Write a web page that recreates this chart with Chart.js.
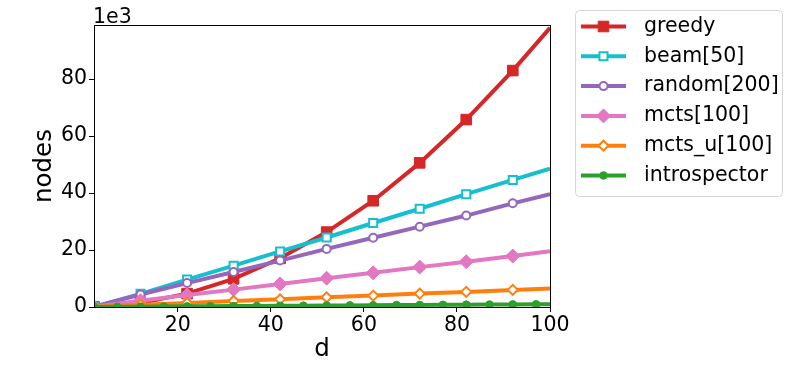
<!DOCTYPE html>
<html>
<head>
<meta charset="utf-8">
<script src="https://cdn.jsdelivr.net/npm/chart.js@4.4.1/dist/chart.umd.min.js"></script>
<style>
  html, body { margin: 0; padding: 0; background: #fff; }
  canvas { display: block; }
</style>
</head>
<body>
<canvas id="nodesChart" width="793" height="367"></canvas>
<script>
/* ---------------- data (values in thousands of nodes) ---------------- */

var depthMain = [2, 12, 22, 32, 42, 52, 62, 72, 82, 92, 100];
var depthIntro = [2, 7, 12, 17, 22, 27, 32, 37, 42, 47, 52, 57, 62, 67, 72, 77, 82, 87, 92, 97, 100];

var greedy = [0.04, 1.4, 4.7, 9.9, 17.1, 26.3, 37.3, 50.6, 65.8, 83.0, 98.0];
var beam50 = [0.1, 4.6, 9.6, 14.5, 19.5, 24.4, 29.5, 34.5, 39.6, 44.6, 48.6];
var random200 = [0.1, 4.4, 8.4, 12.3, 16.3, 20.4, 24.3, 28.2, 32.1, 36.4, 39.6];
var mcts100 = [0.1, 2.2, 4.2, 6.1, 8.1, 10.1, 12.0, 14.0, 15.9, 17.9, 19.6];
var mctsU100 = [0.05, 0.8, 1.4, 2.1, 2.7, 3.4, 4.0, 4.7, 5.3, 6.0, 6.5];
var introspector = [0.02, 0.07, 0.12, 0.17, 0.22, 0.27, 0.32, 0.37, 0.42, 0.47, 0.52,
                    0.57, 0.62, 0.67, 0.72, 0.77, 0.82, 0.87, 0.92, 0.97, 1.0];

var xTicks = [20, 40, 60, 80, 100];
var yTicks = [0, 20, 40, 60, 80];

/* ---------------- styling ---------------- */

var FONT = 'DejaVu Sans';
var TEXT_SIZE = 20.5;

// one entry per series, in legend order
var SERIES = [
  { label: 'greedy',        xs: depthMain,  ys: greedy,       color: '#d62728', style: 'rect',    radius: 7.5, fill: true  },
  { label: 'beam[50]',      xs: depthMain,  ys: beam50,       color: '#17becf', style: 'rect',    radius: 5.7, fill: false },
  { label: 'random[200]',   xs: depthMain,  ys: random200,    color: '#9467bd', style: 'circle',  radius: 4,   fill: false },
  { label: 'mcts[100]',     xs: depthMain,  ys: mcts100,      color: '#e377c2', style: 'rectRot', radius: 7,   fill: true  },
  { label: 'mcts_u[100]',   xs: depthMain,  ys: mctsU100,     color: '#ff7f0e', style: 'rectRot', radius: 5,   fill: false },
  { label: 'introspector',  xs: depthIntro, ys: introspector, color: '#2ca02c', style: 'circle',  radius: 3.8, fill: true  },
];

function buildDatasets() {
  return SERIES.map(function (s, i) {
    var last = s.xs.length - 1;
    return {
      label: s.label,
      data: s.xs.map(function (x, j) { return { x: x, y: s.ys[j] }; }),
      borderColor: s.color,
      borderWidth: 4,
      tension: 0,
      fill: false,
      clip: 0,
      order: SERIES.length - i,
      pointStyle: s.style,
      pointRadius: s.xs.map(function (x, j) { return j === last ? 0 : s.radius; }),
      pointBackgroundColor: s.fill ? s.color : '#ffffff',
      pointBorderColor: s.color,
      pointBorderWidth: s.fill ? 1 : 2,
    };
  });
}

/* ---------------- extra drawing: spines, offset text, legend ---------------- */

var framePlugin = {
  id: 'frame',
  afterDatasetsDraw: function (chart) {
    var ctx = chart.ctx;
    var a = chart.chartArea;
    ctx.save();
    ctx.strokeStyle = '#000';
    ctx.lineWidth = 1;
    ctx.strokeRect(Math.round(a.left) + 0.5, Math.round(a.top) + 0.5,
                   Math.round(a.right - a.left), Math.round(a.bottom - a.top));
    ctx.fillStyle = '#000';
    ctx.font = TEXT_SIZE + 'px "' + FONT + '"';
    ctx.textBaseline = 'alphabetic';
    ctx.textAlign = 'left';
    ctx.fillText('1e3', a.left - 1, 23);
    ctx.restore();
  },
  afterDraw: function (chart) {
    var ctx = chart.ctx;
    var box = { x: 575.5, y: 10.5, w: 207, h: 186 };
    ctx.save();
    ctx.beginPath();
    ctx.roundRect(box.x, box.y, box.w, box.h, 4);
    ctx.fillStyle = 'rgba(255,255,255,0.8)';
    ctx.fill();
    ctx.strokeStyle = '#d6d6d6';
    ctx.lineWidth = 1;
    ctx.stroke();

    chart.data.datasets.forEach(function (ds, i) {
      var s = SERIES[i];
      var y = 26.5 + i * 29.8;
      ctx.beginPath();
      ctx.moveTo(581, y);
      ctx.lineTo(626, y);
      ctx.strokeStyle = s.color;
      ctx.lineWidth = 4;
      ctx.stroke();

      ctx.fillStyle = s.fill ? s.color : '#ffffff';
      ctx.strokeStyle = s.color;
      ctx.lineWidth = s.fill ? 1 : 2;
      Chart.helpers.drawPoint(ctx, {
        pointStyle: s.style, rotation: 0, radius: s.radius,
        borderWidth: s.fill ? 1 : 2,
      }, 603.5, y);

      ctx.fillStyle = '#000';
      ctx.font = TEXT_SIZE + 'px "' + FONT + '"';
      ctx.textAlign = 'left';
      ctx.textBaseline = 'middle';
      ctx.fillText(ds.label, 644, y);
    });
    ctx.restore();
  },
};

/* ---------------- chart ---------------- */

var tickFont = { family: FONT, size: TEXT_SIZE };
var titleFont = { family: FONT, size: 24.5 };

new Chart(document.getElementById('nodesChart').getContext('2d'), {
  type: 'line',
  data: { datasets: buildDatasets() },
  options: {
    responsive: false,
    animation: false,
    layout: { padding: { left: 0, top: 25, right: 243, bottom: 0 } },
    plugins: {
      legend: { display: false },
      tooltip: { enabled: false },
    },
    scales: {
      x: {
        type: 'linear',
        min: 2,
        max: 100,
        border: { display: false },
        grid: { drawOnChartArea: false, drawTicks: true, tickLength: 5, color: '#000' },
        ticks: { font: tickFont, color: '#000', padding: 1, maxRotation: 0 },
        afterBuildTicks: function (s) { s.ticks = xTicks.map(function (v) { return { value: v }; }); },
        afterFit: function (s) { s.height = 60; },
        title: { display: true, text: 'd', font: titleFont, color: '#000', padding: { top: 0, bottom: 3 } },
      },
      y: {
        type: 'linear',
        min: 0,
        max: 99,
        border: { display: false },
        grid: { drawOnChartArea: false, drawTicks: true, tickLength: 5, color: '#000' },
        ticks: { font: tickFont, color: '#000', padding: 2 },
        afterBuildTicks: function (s) { s.ticks = yTicks.map(function (v) { return { value: v }; }); },
        afterFit: function (s) { s.width = 94; },
        title: { display: true, text: 'nodes', font: titleFont, color: '#000', padding: { top: 30, bottom: 0 } },
      },
    },
  },
  plugins: [framePlugin],
});
</script>
</body>
</html>
